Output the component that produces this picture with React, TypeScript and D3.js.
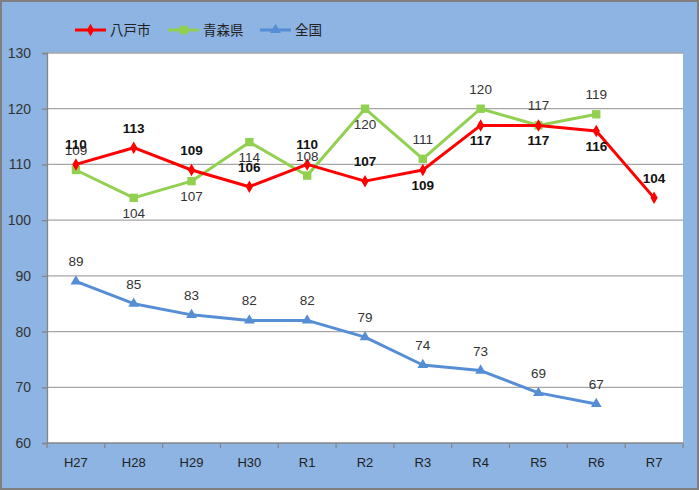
import { useEffect, useRef } from 'react';
import * as d3 from 'd3';

const categories = ['H27', 'H28', 'H29', 'H30', 'R1', 'R2', 'R3', 'R4', 'R5', 'R6', 'R7'];
const hachinohe = [110, 113, 109, 106, 110, 107, 109, 117, 117, 116, 104];
const aomori = [109, 104, 107, 114, 108, 120, 111, 120, 117, 119];
const zenkoku = [89, 85, 83, 82, 82, 79, 74, 73, 69, 67];
// label placement per point: 1 = above, -1 = below
const hachinoheLabelPos = [1, 1, 1, 1, 1, 1, -1, -1, -1, -1, 1];
const aomoriLabelPos = [1, -1, -1, -1, 1, -1, 1, 1, 1, 1];
const yTicks = [60, 70, 80, 90, 100, 110, 120, 130];

const W = 699;
const H = 490;
const FONT = '"Liberation Sans", Arial, sans-serif';
const CJK = '"Noto Sans CJK JP", sans-serif';

export default function App() {
  const ref = useRef<SVGSVGElement>(null);

  useEffect(() => {
    document.body.style.margin = '0';
    if (!ref.current) return;
    const svg = d3.select(ref.current);
    svg.selectAll('*').remove();

    svg.append('rect').attr('width', W).attr('height', H).attr('fill', '#8db4e2');
    svg
      .append('rect')
      .attr('x', 1)
      .attr('y', 1)
      .attr('width', W - 2)
      .attr('height', H - 2)
      .attr('fill', 'none')
      .attr('stroke', '#7f7f7f')
      .attr('stroke-width', 2);

    const left = 47;
    const right = 683;
    const top = 53;
    const bottom = 443;

    const x = d3.scaleBand<string>().domain(categories).range([left, right]);
    const cx = (i: number) => (x(categories[i]) ?? 0) + x.bandwidth() / 2;
    const y = d3.scaleLinear().domain([60, 130]).range([bottom, top]);

    svg
      .append('rect')
      .attr('x', left)
      .attr('y', top)
      .attr('width', right - left)
      .attr('height', bottom - top)
      .attr('fill', '#ffffff');

    // gridlines
    svg
      .append('g')
      .selectAll('line')
      .data(yTicks.slice(1))
      .join('line')
      .attr('x1', left)
      .attr('x2', right)
      .attr('y1', (d) => y(d))
      .attr('y2', (d) => y(d))
      .attr('stroke', '#a6a6a6')
      .attr('stroke-width', 1.3);

    // y axis
    const yAxis = svg
      .append('g')
      .attr('transform', `translate(${left},0)`)
      .call(d3.axisLeft(y).tickValues(yTicks).tickSize(5).tickPadding(11));
    yAxis.select('.domain').attr('stroke', '#868686').attr('stroke-width', 1.3);
    yAxis.selectAll('.tick line').attr('stroke', '#868686').attr('stroke-width', 1.3);
    yAxis
      .selectAll('.tick text')
      .attr('font-family', FONT)
      .attr('font-size', 14)
      .attr('fill', '#333333');

    // x axis
    const xAxis = svg.append('g').attr('transform', `translate(0,${bottom})`);
    xAxis
      .append('line')
      .attr('x1', left)
      .attr('x2', right)
      .attr('stroke', '#868686')
      .attr('stroke-width', 1.3);
    xAxis
      .selectAll('line.tk')
      .data([...categories.map((c) => x(c) ?? 0), right])
      .join('line')
      .attr('class', 'tk')
      .attr('x1', (d) => d)
      .attr('x2', (d) => d)
      .attr('y1', 0)
      .attr('y2', 5)
      .attr('stroke', '#868686')
      .attr('stroke-width', 1.3);
    xAxis
      .selectAll('text')
      .data(categories)
      .join('text')
      .attr('x', (_, i) => cx(i))
      .attr('y', 24)
      .attr('text-anchor', 'middle')
      .attr('font-family', FONT)
      .attr('font-size', 13)
      .attr('fill', '#222222')
      .text((d) => d);

    const line = d3
      .line<number>()
      .x((_, i) => cx(i))
      .y((d) => y(d));

    const drawSeries = (values: number[], color: string, marker: d3.SymbolType, markerSize: number) => {
      const g = svg.append('g');
      g.append('path')
        .datum(values)
        .attr('fill', 'none')
        .attr('stroke', color)
        .attr('stroke-width', 3)
        .attr('stroke-linejoin', 'round')
        .attr('d', line);
      g.selectAll('path.m')
        .data(values)
        .join('path')
        .attr('class', 'm')
        .attr('transform', (d, i) => `translate(${cx(i)},${y(d)})`)
        .attr('d', d3.symbol().type(marker).size(markerSize)())
        .attr('fill', color);
    };

    const labelSeries = (values: number[], labelPos: number[], bold: boolean) => {
      svg
        .append('g')
        .selectAll('text')
        .data(values)
        .join('text')
        .attr('x', (_, i) => cx(i))
        .attr('y', (d, i) => y(d) + (labelPos[i] > 0 ? -15 : 20))
        .attr('text-anchor', 'middle')
        .attr('font-family', FONT)
        .attr('font-size', 13.5)
        .attr('font-weight', bold ? 'bold' : 'normal')
        .attr('fill', bold ? '#111111' : '#333333')
        .text((d) => d);
    };

    drawSeries(zenkoku, '#558ed5', d3.symbolTriangle, 50);
    drawSeries(aomori, '#92d050', d3.symbolSquare, 70);
    drawSeries(hachinohe, '#ff0000', d3.symbolDiamond, 45);

    labelSeries(zenkoku, zenkoku.map(() => 1), false);
    labelSeries(aomori, aomoriLabelPos, false);
    labelSeries(hachinohe, hachinoheLabelPos, true);

    // legend
    const legendItems: [string, string, d3.SymbolType, number][] = [
      ['八戸市', '#ff0000', d3.symbolDiamond, 45],
      ['青森県', '#92d050', d3.symbolSquare, 70],
      ['全国', '#558ed5', d3.symbolTriangle, 50],
    ];
    const legendX = [75, 168, 260];
    const legend = svg.append('g').attr('transform', 'translate(0,30)');
    legendItems.forEach(([label, color, sym, size], i) => {
      const row = legend.append('g').attr('transform', `translate(${legendX[i]},0)`);
      row
        .append('line')
        .attr('x1', 0)
        .attr('x2', 31)
        .attr('stroke', color)
        .attr('stroke-width', 3);
      row
        .append('path')
        .attr('transform', 'translate(15.5,0)')
        .attr('d', d3.symbol().type(sym).size(size)())
        .attr('fill', color);
      row
        .append('text')
        .attr('x', 35)
        .attr('y', 5)
        .attr('font-family', CJK)
        .attr('font-size', 13.5)
        .attr('fill', '#222222')
        .text(label);
    });
  }, []);

  return <svg ref={ref} width={W} height={H} style={{ display: 'block' }} />;
}
